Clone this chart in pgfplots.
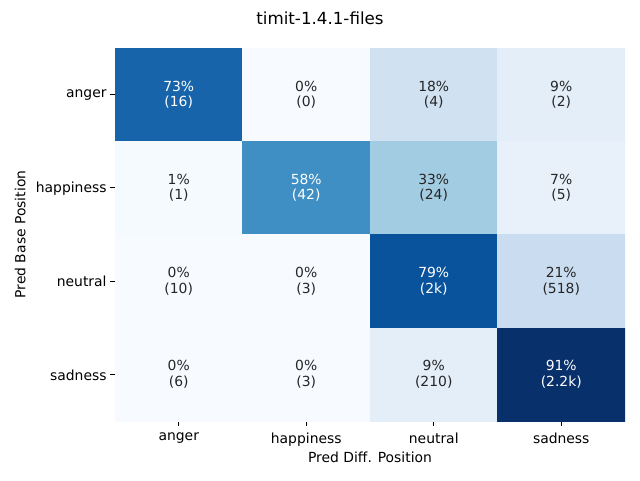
\documentclass[border=0pt]{standalone}
\usepackage{pgfplots}
\pgfplotsset{compat=1.18}
\usepackage{pgfplotstable}
\usepackage{fontspec}
\setmainfont{DejaVu Sans}
\definecolor{darktext}{RGB}{38,38,38}
\pgfplotstableread{
x y c
0 0 73
1 0 0
2 0 18
3 0 9
0 1 1
1 1 58
2 1 33
3 1 7
0 2 0
1 2 0
2 2 79
3 2 21
0 3 0
1 3 0
2 3 9
3 3 91
}\cells
\begin{document}
\begin{tikzpicture}[x=1pt,y=1pt]
\path[use as bounding box] (0,0) rectangle (640,480);
\node[font=\fontsize{16.7}{20}\selectfont] at (320,462) {timit-1.4.1-files};
\begin{axis}[
  at={(115pt,59pt)}, anchor=south west,
  width=510pt, height=373pt, scale only axis,
  xmin=-0.5, xmax=3.5, ymin=-0.5, ymax=3.5, y dir=reverse,
  axis line style={draw=none},
  xtick={0,1,2,3}, xticklabels={anger,happiness,neutral,sadness},
  ytick={0,1,2,3}, yticklabels={anger,happiness,neutral,sadness},
  tick pos=left, tick align=outside, major tick length=4.9pt,
  tick style={black, line width=0.8pt},
  xticklabel style={yshift=-3pt},
  yticklabel style={yshift=-0.5pt},
  font=\fontsize{13.9}{15.5}\selectfont,
  xlabel={Pred Diff. Position}, ylabel={Pred Base Position},
  xlabel style={at={(axis description cs:0.5,-0.0965)}, anchor=center},
  ylabel style={at={(axis description cs:-0.186,0.5)}, anchor=center},
  colormap={blues}{rgb255=(247,251,255) rgb255=(222,235,247) rgb255=(198,219,239)
    rgb255=(158,202,225) rgb255=(107,174,214) rgb255=(66,146,198)
    rgb255=(33,113,181) rgb255=(8,81,156) rgb255=(8,48,107)},
  point meta min=0, point meta max=91,
]
\addplot[matrix plot*, mesh/cols=4, point meta=explicit] table[meta=c] {\cells};
\addplot[only marks, mark=*, mark size=0pt, mark options={draw=none,fill=none},
  point meta=explicit symbolic,
  nodes near coords, nodes near coords align=center,
  every node near coord/.append style={align=center, anchor=center, text=white,
    font=\fontsize{13.9}{15.5}\selectfont}]
  table[x=x, y=y, meta=l, col sep=comma] {
x,y,l
0,0,{73\%\\(16)}
1,1,{58\%\\(42)}
2,2,{79\%\\(2k)}
3,3,{91\%\\(2.2k)}
};
\addplot[only marks, mark=*, mark size=0pt, mark options={draw=none,fill=none},
  point meta=explicit symbolic,
  nodes near coords, nodes near coords align=center,
  every node near coord/.append style={align=center, anchor=center, text=darktext,
    font=\fontsize{13.9}{15.5}\selectfont}]
  table[x=x, y=y, meta=l, col sep=comma] {
x,y,l
1,0,{0\%\\(0)}
2,0,{18\%\\(4)}
3,0,{9\%\\(2)}
0,1,{1\%\\(1)}
2,1,{33\%\\(24)}
3,1,{7\%\\(5)}
0,2,{0\%\\(10)}
1,2,{0\%\\(3)}
3,2,{21\%\\(518)}
0,3,{0\%\\(6)}
1,3,{0\%\\(3)}
2,3,{9\%\\(210)}
};
\end{axis}
\end{tikzpicture}
\end{document}
